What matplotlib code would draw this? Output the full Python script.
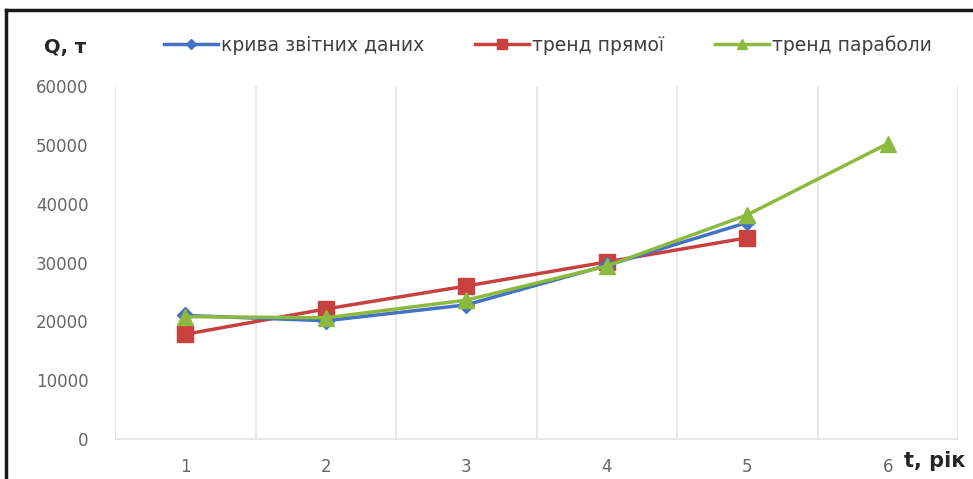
import matplotlib
matplotlib.use("Agg")
import matplotlib.pyplot as plt
from matplotlib.lines import Line2D

years = [1, 2, 3, 4, 5, 6]
tick_labels = ["1", "2", "3", "4", "5", "6"]
reported = [21000, 20100, 22800, 29500, 36800]
trend_linear = [17800, 22100, 26000, 30100, 34200]
trend_parab = [20800, 20600, 23600, 29400, 38100, 50200]

W, H = 973, 479
fig = plt.figure(figsize=(W / 100, H / 100), dpi=100)
ax = fig.add_axes([115 / W, (H - 439) / H, (958 - 115) / W, (439 - 86) / H])

c_blue, c_red, c_green = "#4472C4", "#C8413F", "#8CBA3E"
ax.plot(years[:5], reported, color=c_blue, lw=2.5, marker="D", ms=8, label="крива звітних даних", zorder=3)
ax.plot(years[:5], trend_linear, color=c_red, lw=2.5, marker="s", ms=11, label="тренд прямої", zorder=2)
ax.plot(years, trend_parab, color=c_green, lw=2.5, marker="^", ms=11, label="тренд параболи", zorder=4)

ax.set_xlim(0.5, 6.5)
ax.set_ylim(0, 60000)
ax.set_yticks(range(0, 60001, 10000))
ax.set_xticks(years)
ax.set_xticklabels(tick_labels)
ax.set_xticks([x + 0.5 for x in range(0, 7)], minor=True)
ax.grid(False)
ax.grid(True, which="minor", axis="x", color="#e3e3e3", lw=1.2)
for s in ["top", "right", "left"]:
    ax.spines[s].set_visible(False)
ax.spines["bottom"].set_color("#e3e3e3")
ax.spines["bottom"].set_linewidth(1.2)
ax.tick_params(axis="both", which="both", length=0, colors="#666666", labelsize=12)
ax.tick_params(axis="y", pad=19)
ax.tick_params(axis="x", pad=14)

fig.legend(loc="center", bbox_to_anchor=(548 / W, 1 - 45 / H), ncol=3, frameon=False,
           fontsize=13.5, handlelength=2.9, columnspacing=2.7, handletextpad=0.15,
           markerscale=0.7, labelcolor="#404040")

fig.text(65 / W, 1 - 48 / H, "Q, т", fontsize=14, fontweight="bold", color="#262626",
         ha="center", va="center")
fig.text(935 / W, 1 - 461 / H, "t, рік", fontsize=15, fontweight="bold", color="#262626",
         ha="center", va="center")

fig.add_artist(Line2D([6 / W, 6 / W], [0, 1 - 10 / H], transform=fig.transFigure, color="#1a1a1a", lw=2.5))
fig.add_artist(Line2D([6 / W, 1], [1 - 10 / H, 1 - 10 / H], transform=fig.transFigure, color="#1a1a1a", lw=2.5))

fig.savefig("out.png", dpi=100)
